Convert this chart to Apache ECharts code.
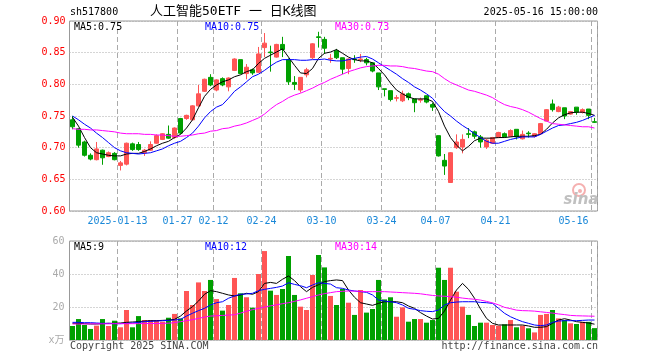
<!DOCTYPE html>
<html><head><meta charset="utf-8">
<script src="https://cdn.jsdelivr.net/npm/echarts@6/dist/echarts.min.js"></script>
<style>html,body{margin:0;padding:0;background:#fff}#c{width:660px;height:360px}</style>
</head><body><div id="c"></div><script>
const dates = ['2024-12-31','2025-01-02','2025-01-03','2025-01-06','2025-01-07','2025-01-08','2025-01-09','2025-01-10','2025-01-13','2025-01-14',
'2025-01-15','2025-01-16','2025-01-17','2025-01-20','2025-01-21','2025-01-22','2025-01-23','2025-01-24','2025-01-27','2025-02-05',
'2025-02-06','2025-02-07','2025-02-10','2025-02-11','2025-02-12','2025-02-13','2025-02-14','2025-02-17','2025-02-18','2025-02-19',
'2025-02-20','2025-02-21','2025-02-24','2025-02-25','2025-02-26','2025-02-27','2025-02-28','2025-03-03','2025-03-04','2025-03-05',
'2025-03-06','2025-03-07','2025-03-10','2025-03-11','2025-03-12','2025-03-13','2025-03-14','2025-03-17','2025-03-18','2025-03-19',
'2025-03-20','2025-03-21','2025-03-24','2025-03-25','2025-03-26','2025-03-27','2025-03-28','2025-03-31','2025-04-01','2025-04-02',
'2025-04-03','2025-04-07','2025-04-08','2025-04-09','2025-04-10','2025-04-11','2025-04-14','2025-04-15','2025-04-16','2025-04-17',
'2025-04-18','2025-04-21','2025-04-22','2025-04-23','2025-04-24','2025-04-25','2025-04-28','2025-04-29','2025-04-30','2025-05-06',
'2025-05-07','2025-05-08','2025-05-09','2025-05-12','2025-05-13','2025-05-14','2025-05-15','2025-05-16'];

const tickDates = ['2025-01-13','2025-01-27','2025-02-12','2025-02-24','2025-03-10','2025-03-24','2025-04-07','2025-04-21','2025-05-16'];

const opens = [.744,.730,.709,.688,.681,.696,.686,.691,.672,.674,
.706,.705,.692,.696,.707,.713,.721,.716,.746,.746,
.744,.766,.789,.811,.791,.809,.796,.822,.839,.817,
.823,.819,.858,.851,.843,.863,.839,.803,.791,.815,
.842,.875,.871,.840,.853,.842,.825,.840,.839,.839,
.834,.818,.793,.790,.778,.774,.785,.777,.775,.782,
.768,.719,.680,.645,.700,.701,.722,.725,.717,.701,
.707,.716,.722,.718,.729,.714,.723,.718,.722,.742,
.769,.757,.763,.753,.764,.756,.761,.741];
const closes = [.733,.704,.688,.682,.698,.684,.692,.681,.676,.707,
.697,.697,.696,.705,.719,.722,.715,.731,.723,.751,
.766,.785,.808,.799,.807,.799,.810,.840,.817,.827,
.818,.848,.865,.850,.863,.855,.804,.800,.811,.823,
.864,.874,.857,.841,.842,.824,.840,.839,.840,.834,
.821,.796,.792,.776,.779,.785,.779,.771,.776,.772,
.764,.687,.671,.692,.709,.713,.721,.718,.709,.712,
.716,.724,.717,.727,.717,.721,.722,.722,.738,.760,
.760,.764,.750,.757,.756,.760,.751,.740];
const lows = [.729,.700,.686,.680,.680,.673,.685,.680,.664,.672,
.695,.695,.687,.695,.706,.712,.714,.714,.721,.744,
.743,.765,.788,.797,.789,.797,.789,.821,.816,.808,
.815,.818,.843,.820,.842,.843,.799,.791,.787,.811,
.840,.858,.848,.834,.840,.816,.816,.834,.835,.830,
.819,.791,.781,.773,.773,.772,.775,.756,.771,.770,
.758,.686,.657,.645,.698,.691,.715,.714,.700,.698,
.706,.715,.716,.717,.713,.713,.716,.716,.721,.742,
.757,.756,.745,.752,.752,.754,.745,.739];
const highs = [.750,.731,.711,.691,.709,.697,.694,.693,.679,.708,
.708,.709,.698,.710,.721,.723,.735,.732,.747,.752,
.767,.799,.809,.816,.808,.811,.811,.841,.839,.832,
.825,.859,.881,.861,.864,.875,.841,.813,.811,.826,
.865,.883,.875,.848,.856,.842,.841,.846,.848,.842,
.834,.818,.793,.790,.783,.790,.787,.777,.779,.782,
.771,.719,.690,.693,.721,.721,.731,.727,.720,.714,
.717,.725,.724,.729,.729,.727,.726,.723,.739,.761,
.776,.766,.763,.758,.764,.762,.761,.747];

const ma5 = [.748,.734,.716,.700,.692,.690,.688,.687,.687,.690,
.691,.691,.694,.698,.703,.707,.710,.716,.721,.731,
.744,.763,.781,.792,.799,.804,.807,.812,.815,.820,
.823,.833,.841,.846,.851,.856,.843,.830,.818,.817,
.825,.841,.849,.851,.855,.849,.843,.839,.837,.837,
.834,.825,.815,.802,.791,.785,.780,.777,.777,.777,
.773,.757,.734,.716,.704,.695,.702,.711,.715,.715,
.715,.716,.716,.717,.718,.718,.718,.719,.721,.729,
.739,.747,.752,.755,.756,.756,.754,.751];
const ma10 = [.750,.744,.737,.731,.723,.716,.708,.700,.695,.692,
.691,.690,.691,.692,.695,.698,.703,.707,.710,.716,
.723,.734,.747,.757,.764,.768,.778,.789,.796,.804,
.812,.816,.822,.829,.835,.839,.839,.839,.838,.838,
.839,.839,.840,.838,.837,.837,.839,.841,.843,.844,
.840,.834,.828,.822,.816,.809,.803,.796,.791,.785,
.778,.767,.757,.750,.742,.735,.729,.722,.716,.710,
.707,.707,.710,.713,.715,.717,.717,.717,.721,.726,
.731,.735,.736,.738,.740,.743,.747,.751];
const ma30 = [.730,.729,.729,.728,.728,.727,.726,.725,.723,.722,
.722,.722,.721,.721,.720,.720,.719,.718,.718,.719,
.720,.722,.723,.726,.727,.730,.731,.734,.736,.739,
.743,.747,.753,.761,.768,.773,.779,.783,.786,.790,
.794,.799,.803,.808,.812,.816,.820,.823,.826,.828,
.829,.830,.830,.829,.829,.828,.826,.825,.823,.821,
.820,.816,.809,.803,.799,.795,.791,.789,.786,.783,
.779,.773,.768,.765,.763,.760,.756,.751,.746,.742,
.738,.737,.736,.735,.734,.733,.733,.731];

const volumes = [8.5,12.7,9.1,6.7,8.7,12.7,8.5,11.7,7.7,18.2,
7.7,14.5,12.1,12.1,12.1,11.1,13.5,15.8,13.1,29.7,
21.2,34.9,29.7,36.4,24.8,17.8,21.2,37.6,28.3,25.9,
19.6,40.0,53.9,29.9,27.3,30.9,50.9,27.3,20.2,18.2,
39.4,51.5,44.0,26.7,21.2,30.9,22.6,15.2,30.3,16.6,
18.8,36.4,24.6,25.9,14.1,19.8,11.1,12.7,12.7,10.5,
12.1,43.8,36.4,43.8,29.3,20.2,15.2,8.5,10.5,10.5,
9.1,8.7,9.5,12.1,7.7,8.7,7.1,4.6,15.2,15.8,
18.2,13.1,12.1,10.1,9.7,11.0,11.0,7.2];
const volMa5 = [10.1,10.1,9.9,9.7,9.7,9.9,10.1,10.1,10.3,10.7,
10.9,11.1,11.5,11.7,11.7,11.9,12.1,12.5,14.5,17.6,
20.2,23.6,27.7,29.9,29.3,28.3,27.3,26.7,27.3,28.3,
27.7,29.3,34.3,34.9,34.3,36.8,38.8,36.0,32.3,29.3,
31.9,33.5,35.4,36.0,36.4,36.0,30.3,25.9,22.6,21.8,
21.0,22.2,23.2,23.2,23.2,22.6,20.6,19.2,16.6,14.5,
12.7,13.1,17.6,24.2,30.3,34.3,30.7,25.3,18.8,13.1,
10.1,9.1,9.1,9.1,9.1,9.1,8.5,7.7,7.7,8.1,
10.1,12.1,12.9,12.1,11.1,10.7,10.3,9.6];
const volMa10 = [10.7,10.7,10.5,10.5,10.3,10.1,10.1,9.9,9.9,10.1,
10.3,10.7,11.1,11.3,11.5,11.7,11.9,12.1,12.5,14.5,
16.2,17.8,19.2,21.2,22.6,23.2,25.3,26.7,27.7,27.9,
28.3,29.9,30.7,31.3,31.9,32.7,34.7,33.7,32.9,31.7,
33.3,34.7,34.3,33.9,31.7,31.3,30.3,29.7,29.3,28.9,
27.3,24.2,23.6,23.2,22.6,21.2,19.2,18.6,17.8,17.4,
17.2,18.2,21.2,22.6,23.0,23.2,23.2,23.2,22.8,22.6,
22.2,19.2,16.2,14.1,12.5,11.1,10.1,9.1,8.7,9.1,
10.7,11.5,11.7,11.7,11.7,11.9,12.1,12.1];
const volMa30 = [9.7,9.7,9.7,9.8,9.8,9.8,9.8,9.9,9.9,9.9,
9.9,9.9,10.0,10.0,10.0,10.1,10.2,10.5,11.1,11.7,
12.3,13.1,13.9,14.5,14.7,14.9,15.1,15.3,16.3,17.4,
18.4,19.2,20.0,20.7,21.3,22.0,22.6,23.4,24.3,25.3,
26.3,27.3,28.1,28.7,29.3,29.5,29.7,29.6,29.5,29.3,
29.3,29.3,29.3,29.1,28.9,28.7,28.5,28.3,28.0,27.5,
27.0,26.7,26.5,26.3,25.9,25.4,25.0,24.7,24.2,23.4,
22.5,21.3,19.8,19.0,18.1,17.8,17.7,17.5,17.1,16.7,
16.3,15.8,15.4,14.9,14.7,14.6,14.5,14.4];

const priceLegend = ['MA5:0.75','MA10:0.75','MA30:0.73'];
const volLegend = ['MA5:9','MA10:12','MA30:14'];
const headerTexts = ['sh517800','人工智能50ETF 一 日K线图','2025-05-16 15:00:00'];
const footerTexts = ['Copyright 2025 SINA.COM','http://finance.sina.com.cn'];

const RED = '#ff5555', GREEN = '#00a000';
const MONO = "'DejaVu Sans Mono', monospace";
const GL = 69.5, GW = 528;
const labelSet = new Set(tickDates.map(d => dates.indexOf(d)));
const candle = dates.map((d, i) => [opens[i], closes[i], lows[i], highs[i]]);
const volData = volumes.map((v, i) => ({value: v, itemStyle: {color: closes[i] >= opens[i] ? RED : GREEN}}));

function xAx(g, showLabel) {
  return {
    type: 'category', gridIndex: g, data: dates, boundaryGap: true,
    axisLine: {show: false}, axisTick: {show: false},
    splitLine: {show: true, interval: (i) => labelSet.has(i), lineStyle: {color: '#aaaaaa', type: [5, 3], width: 1}},
    axisLabel: showLabel ? {
      show: true, interval: (i) => labelSet.has(i),
      formatter: (v) => v === tickDates[0] ? v : v.slice(5),
      color: '#1a88d8', fontFamily: MONO, fontSize: 10, margin: 5,
      padding: [0, 6, 0, 0], alignMaxLabel: 'right'
    } : {show: false}
  };
}
function maLine(x, y, data, color) {
  return {type: 'line', xAxisIndex: x, yAxisIndex: y, data: data, showSymbol: false, symbol: 'none',
    lineStyle: {color: color, width: 1}, itemStyle: {color: color}, silent: true, z: 5};
}
function txt(x, y, text, color, align, font) {
  return {type: 'text', x: x, y: y, silent: true, z: 100,
    style: {text: text, fill: color, align: align || 'left', verticalAlign: 'middle', font: font || ('10px ' + MONO)}};
}

const chart = echarts.init(document.getElementById('c'), null, {renderer: 'canvas'});
chart.setOption({
  animation: false,
  backgroundColor: '#ffffff',
  grid: [
    {left: GL, top: 21, width: GW, height: 190, show: true, borderColor: '#999999', borderWidth: 1, backgroundColor: 'transparent'},
    {left: GL, top: 241, width: GW, height: 99, show: true, borderColor: '#999999', borderWidth: 1, backgroundColor: 'transparent'}
  ],
  xAxis: [xAx(0, true), xAx(1, false)],
  yAxis: [
    {type: 'value', gridIndex: 0, min: 0.6, max: 0.9, interval: 0.05, scale: false,
      axisLine: {show: false}, axisTick: {show: false},
      axisLabel: {color: '#ff0000', fontFamily: MONO, fontSize: 10, margin: 4, formatter: (v) => v.toFixed(2)},
      splitLine: {show: true, lineStyle: {color: '#aaaaaa', type: [1, 2], width: 1}}},
    {type: 'value', gridIndex: 1, min: 0, max: 60, interval: 20,
      axisLine: {show: false}, axisTick: {show: false},
      axisLabel: {color: '#aaaaaa', fontFamily: "'DejaVu Sans Mono','Noto Sans CJK SC',monospace", fontSize: 10, margin: 5,
        formatter: (v) => v === 0 ? 'x万' : String(v)},
      splitLine: {show: true, lineStyle: {color: '#aaaaaa', type: [1, 2], width: 1}}}
  ],
  series: [
    {type: 'candlestick', xAxisIndex: 0, yAxisIndex: 0, data: candle, barWidth: 5,
      itemStyle: {color: RED, color0: GREEN, borderColor: RED, borderColor0: GREEN, borderWidth: 1}},
    maLine(0, 0, ma5, '#000000'),
    maLine(0, 0, ma10, '#0000ff'),
    maLine(0, 0, ma30, '#ff00ff'),
    {type: 'bar', xAxisIndex: 1, yAxisIndex: 1, data: volData, barWidth: 5},
    maLine(1, 1, volMa5, '#000000'),
    maLine(1, 1, volMa10, '#0000ff'),
    maLine(1, 1, volMa30, '#ff00ff')
  ],
  graphic: [
    txt(70, 12, headerTexts[0], '#000'),
    txt(150, 12, headerTexts[1], '#000', 'left', "13px 'DejaVu Sans Mono', 'Noto Sans CJK SC', sans-serif"),
    txt(598, 12, headerTexts[2], '#000', 'right'),
    txt(74, 27, priceLegend[0], '#000'),
    txt(205, 27, priceLegend[1], '#0000ff'),
    txt(335, 27, priceLegend[2], '#ff00ff'),
    txt(74, 247, volLegend[0], '#000'),
    txt(205, 247, volLegend[1], '#0000ff'),
    txt(335, 247, volLegend[2], '#ff00ff'),
    txt(70, 346, footerTexts[0], '#444'),
    txt(598, 346, footerTexts[1], '#444', 'right'),
    {type: 'circle', silent: true, z: 1, shape: {cx: 579, cy: 190, r: 6}, style: {fill: 'none', stroke: '#f5b0b0', lineWidth: 2}},
    {type: 'circle', silent: true, z: 1, shape: {cx: 580, cy: 191, r: 2}, style: {fill: '#f5b0b0'}},
    txt(581, 200, 'sina', '#c0c0c0', 'center', "italic bold 15px 'DejaVu Sans', sans-serif")
  ]
});
</script></body></html>
